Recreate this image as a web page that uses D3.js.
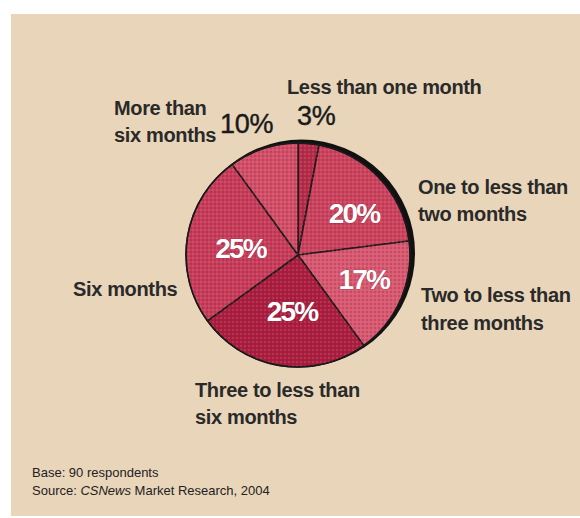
<!DOCTYPE html>
<html>
<head>
<meta charset="utf-8">
<script src="https://cdn.jsdelivr.net/npm/d3@7"></script>
<style>
  html, body { margin: 0; padding: 0; background: #ffffff; }
  svg { display: block; }
</style>
</head>
<body>
<svg id="chart" width="580" height="518"></svg>
<script>
// Time categories, clockwise from 12 o'clock
const categories = [
  "Less than one month",
  "One to less than two months",
  "Two to less than three months",
  "Three to less than six months",
  "Six months",
  "More than six months"
];
// Share of respondents (%)
const shares = [3, 20, 17, 25, 25, 10];
// Slice fills
const sliceColors = ["#b42c4a", "#cb4460", "#d85a73", "#a91e40", "#c73e5c", "#d3506b"];
// Percent labels drawn inside the slices (empty = drawn outside)
const insideLabels = ["", "20%", "17%", "25%", "25%", ""];

const svg = d3.select("#chart");
const W = 580, H = 518;

// Beige panel
svg.append("rect").attr("x", 11).attr("y", 14).attr("width", W - 11).attr("height", 502)
  .attr("fill", "#e9d5b9");

// Halftone dot texture for the slices
const defs = svg.append("defs");
const pat = defs.append("pattern").attr("id", "dots")
  .attr("width", 4).attr("height", 4).attr("patternUnits", "userSpaceOnUse");
pat.append("circle").attr("cx", 1).attr("cy", 1).attr("r", 0.9).attr("fill", "#7a0f2a").attr("opacity", 0.3);
pat.append("circle").attr("cx", 3).attr("cy", 3).attr("r", 0.9).attr("fill", "#f08a8a").attr("opacity", 0.3);

const cx = 298, cy = 255, R = 112;
const g = svg.append("g").attr("transform", `translate(${cx},${cy})`);

const pie = d3.pie().sort(null).value(d => d)(shares);
const arc = d3.arc().innerRadius(0).outerRadius(R);

// Dark rim along the upper right
g.append("circle").attr("cx", 3.5).attr("cy", -2).attr("r", R + 1.5).attr("fill", "#111");

g.selectAll("path.slice").data(pie).join("path")
  .attr("class", "slice")
  .attr("d", arc)
  .attr("fill", (d, i) => sliceColors[i])
  .attr("stroke", "#1a1a1a")
  .attr("stroke-width", 1.6)
  .attr("stroke-linejoin", "round");

g.selectAll("path.tex").data(pie).join("path")
  .attr("class", "tex")
  .attr("d", arc)
  .attr("fill", "url(#dots)")
  .attr("pointer-events", "none");

g.append("circle").attr("r", R).attr("fill", "none").attr("stroke", "#1a1a1a").attr("stroke-width", 1.4);

// Inside percent labels
const labelRadius = [0, 70, 70, 56, 58, 0];
const labelAngleShift = [0, 0.11, -0.06, -0.05, -0.03, 0];
g.selectAll("text.pct").data(pie).join("text")
  .attr("class", "pct")
  .attr("x", (d, i) => {
    const a = (d.startAngle + d.endAngle) / 2 + labelAngleShift[i];
    return Math.sin(a) * labelRadius[i];
  })
  .attr("y", (d, i) => {
    const a = (d.startAngle + d.endAngle) / 2 + labelAngleShift[i];
    return -Math.cos(a) * labelRadius[i];
  })
  .attr("dy", "0.36em")
  .attr("text-anchor", "middle")
  .attr("font-family", "Liberation Sans, Arial, sans-serif")
  .attr("font-weight", "bold")
  .attr("font-size", 28)
  .attr("letter-spacing", -1.8)
  .attr("fill", "#ffffff")
  .attr("stroke", "#8a1b35")
  .attr("stroke-width", 0.6)
  .attr("paint-order", "stroke")
  .text((d, i) => insideLabels[i]);

// Category labels
const labelFont = "Liberation Sans, Arial, sans-serif";
function label(lines, x, y, lh, anchor) {
  const t = svg.append("text")
    .attr("x", x).attr("y", y)
    .attr("font-family", labelFont)
    .attr("font-weight", "bold")
    .attr("font-size", 20)
    .attr("letter-spacing", -0.35)
    .attr("fill", "#2a2a2a")
    .attr("text-anchor", anchor || "start");
  lines.forEach((s, i) => t.append("tspan").attr("x", x).attr("y", y + i * lh).text(s));
}
label(["Less than one month"], 287, 94, 27);
label(["More than", "six months"], 114, 115, 27);
label(["One to less than", "two months"], 418, 194, 27);
label(["Two to less than", "three months"], 421, 302, 28);
label(["Six months"], 73, 296, 27);
label(["Three to less than", "six months"], 195, 397, 27);

// Outside percent labels for the two small slices
function pctOut(text, x, y) {
  svg.append("text").attr("x", x).attr("y", y)
    .attr("font-family", labelFont)
    .attr("font-size", 27)
    .attr("letter-spacing", -0.3)
    .attr("fill", "#1a1a1a")
    .attr("stroke", "#1a1a1a")
    .attr("stroke-width", 0.4)
    .text(text);
}
pctOut(shares[0] + "%", 297, 125);
pctOut(shares[5] + "%", 220, 133);

// Footer notes
const foot = svg.append("g").attr("font-family", labelFont).attr("font-size", 13).attr("fill", "#222");
foot.append("text").attr("x", 32).attr("y", 477).text("Base: 90 respondents");
const src = foot.append("text").attr("x", 32).attr("y", 495);
src.append("tspan").text("Source: ");
src.append("tspan").attr("font-style", "italic").text("CSNews");
src.append("tspan").text(" Market Research, 2004");
</script>
</body>
</html>
